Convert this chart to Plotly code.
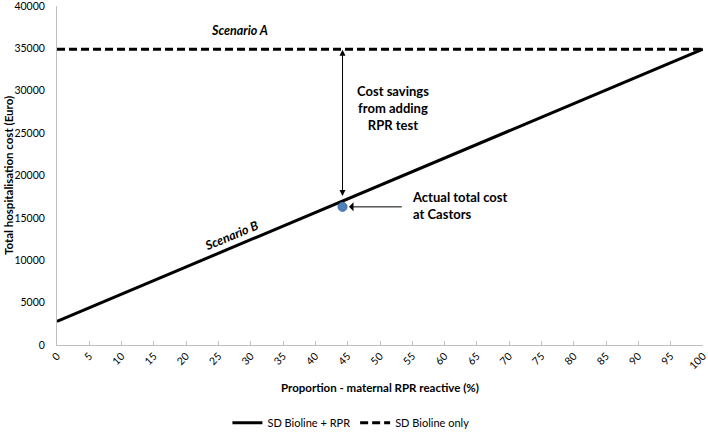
import plotly.graph_objects as go

# Data
proportion = [0, 100]
cost_rpr = [2800, 34900]          # SD Bioline + RPR (Scenario B)
cost_only = [34900, 34900]        # SD Bioline only (Scenario A)
actual_x = [44.2]
actual_y = [16300]
x_ticks = list(range(0, 101, 5))
y_ticks = list(range(0, 40001, 5000))

FONT = "Lato, 'Open Sans', sans-serif"

fig = go.Figure()
fig.add_trace(go.Scatter(x=proportion, y=cost_rpr, mode="lines", name="SD Bioline + RPR",
                         line=dict(color="black", width=3)))
fig.add_trace(go.Scatter(x=proportion, y=cost_only, mode="lines", name="SD Bioline only",
                         line=dict(color="black", width=3, dash="8px,4px")))
fig.add_trace(go.Scatter(x=actual_x, y=actual_y, mode="markers", showlegend=False,
                         marker=dict(color="#4F81BD", size=9, line=dict(color="#3A6A9E", width=1))))

# Annotations
fig.add_annotation(x=actual_x[0], y=cost_only[0] - 50, ax=actual_x[0], ay=17400,
                   xref="x", yref="y", axref="x", ayref="y", text="", showarrow=True,
                   arrowhead=2, arrowsize=1.2, arrowwidth=1, arrowcolor="black", arrowside="end+start")
fig.add_annotation(x=45.2, y=actual_y[0], ax=53.6, ay=actual_y[0],
                   xref="x", yref="y", axref="x", ayref="y", text="", showarrow=True,
                   arrowhead=1, arrowsize=1.5, arrowwidth=1, arrowcolor="black")
fig.add_annotation(x=28.3, y=37100, xref="x", yref="y", showarrow=False,
                   text="<b><i>Scenario A</i></b>", font=dict(size=12.5, color="black", family=FONT))
fig.add_annotation(x=27.0, y=12900, xref="x", yref="y", showarrow=False, textangle=-22.8,
                   text="<b><i>Scenario B</i></b>", font=dict(size=12.5, color="black", family=FONT))
fig.add_annotation(x=52.0, y=28000, xref="x", yref="y", showarrow=False,
                   text="<b>Cost savings<br>from adding<br>RPR test</b>",
                   font=dict(size=13, color="black", family=FONT), align="center")
fig.add_annotation(x=54.6, y=16500, xref="x", yref="y", showarrow=False, xanchor="left",
                   text="<b>Actual total cost<br>at Castors</b>",
                   font=dict(size=13, color="black", family=FONT), align="left")

# Axis titles
fig.add_annotation(x=0.5, y=-0.125, xref="paper", yref="paper", showarrow=False,
                   xanchor="center", yanchor="middle",
                   text="<b>Proportion - maternal RPR reactive (%)</b>",
                   font=dict(size=11.5, color="black", family=FONT))
fig.add_annotation(x=-0.075, y=0.5, xref="paper", yref="paper", showarrow=False,
                   xanchor="center", yanchor="middle", textangle=-90,
                   text="<b>Total hospitalisation cost (Euro)</b>",
                   font=dict(size=11.5, color="black", family=FONT))

fig.update_layout(
    width=708, height=432,
    margin=dict(l=57, r=5, t=6, b=87, autoexpand=False),
    paper_bgcolor="white", plot_bgcolor="white",
    font=dict(family=FONT, size=11, color="black"),
    showlegend=True,
    legend=dict(orientation="h", x=0.455, xanchor="center", y=-0.229, yanchor="middle",
                font=dict(size=11, family=FONT), itemwidth=30, tracegroupgap=0),
)
fig.update_xaxes(range=[0, 100], tickvals=x_ticks, ticktext=[str(v) for v in x_ticks],
                 tickangle=-45, showgrid=False, zeroline=False, automargin=False,
                 showline=True, linecolor="#BFBFBF", linewidth=1,
                 ticks="inside", ticklen=4, tickcolor="#BFBFBF",
                 ticklabeloverflow="allow",
                 tickfont=dict(size=10.5, family=FONT))
fig.update_yaxes(range=[0, 40000], tickvals=y_ticks, ticktext=[str(v) for v in y_ticks],
                 showgrid=False, zeroline=False, automargin=False,
                 showline=True, linecolor="#BFBFBF", linewidth=1,
                 ticklabeloverflow="allow", ticklabelstandoff=9,
                 tickfont=dict(size=10.5, family=FONT))

fig.write_html("out.html", config={"displayModeBar": False},
               post_script="document.body.style.margin='0';document.body.style.overflow='hidden';")
